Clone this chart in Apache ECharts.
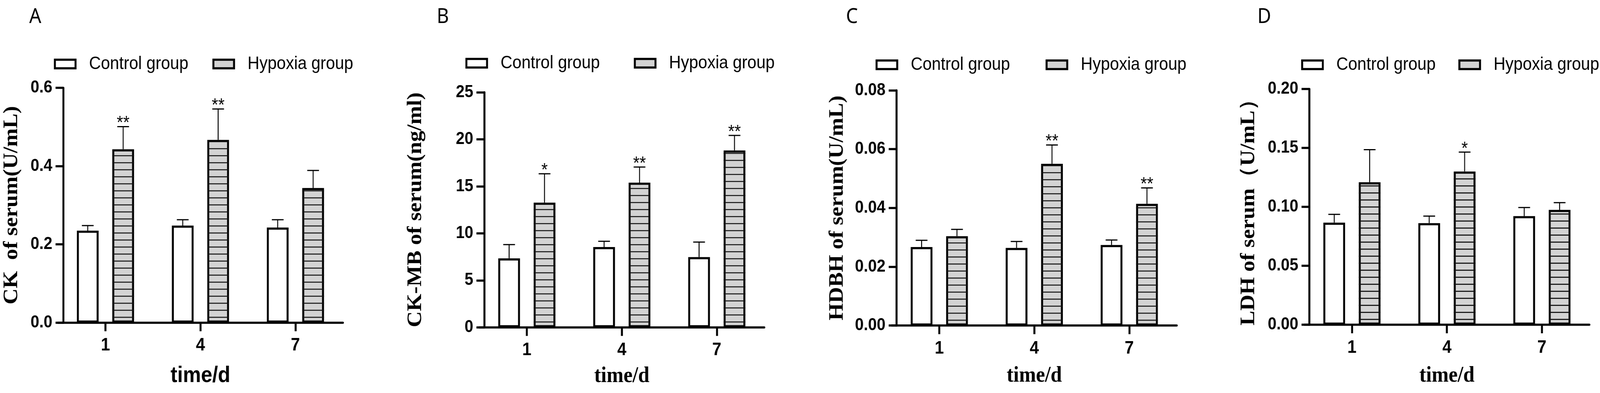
<!DOCTYPE html>
<html>
<head>
<meta charset="utf-8">
<title>Serum enzymes</title>
<script src="https://cdn.jsdelivr.net/npm/echarts@6/dist/echarts.min.js"></script>
<style>
  html, body { margin: 0; padding: 0; background: #fff; overflow: hidden; }
  #chart { width: 4492px; height: 1007px; transform-origin: 0 0; }
</style>
</head>
<body>
<div id="chart"></div>
<script>
const days = ['1', '4', '7'];
const groups = ['Control group', 'Hypoxia group'];

// A: CK
const ckControl = [0.235, 0.248, 0.243];
const ckControlSd = [0.013, 0.015, 0.020];
const ckHypoxia = [0.443, 0.467, 0.344];
const ckHypoxiaSd = [0.058, 0.079, 0.045];
const ckStars = ['**', '**', ''];

// B: CK-MB
const ckmbControl = [7.34, 8.54, 7.47];
const ckmbControlSd = [1.46, 0.61, 1.60];
const ckmbHypoxia = [13.26, 15.39, 18.81];
const ckmbHypoxiaSd = [3.07, 1.66, 1.60];
const ckmbStars = ['*', '**', '**'];

// C: HDBH
const hdbhControl = [0.0267, 0.0264, 0.0274];
const hdbhControlSd = [0.0023, 0.0022, 0.0017];
const hdbhHypoxia = [0.0304, 0.0550, 0.0414];
const hdbhHypoxiaSd = [0.0023, 0.0064, 0.0054];
const hdbhStars = ['', '**', '**'];

// D: LDH
const ldhControl = [0.0866, 0.0862, 0.0921];
const ldhControlSd = [0.0070, 0.0059, 0.0073];
const ldhHypoxia = [0.1209, 0.1300, 0.0974];
const ldhHypoxiaSd = [0.0276, 0.0164, 0.0062];
const ldhStars = ['', '*', ''];

const yNames = ['CK  of serum(U/mL)', 'CK-MB of serum(ng/ml)', 'HDBH of serum(U/mL)', 'LDH of serum（U/mL）'];
const yMax = [0.6, 25, 0.08, 0.2];
const yStep = [0.2, 5, 0.02, 0.05];
const yDigits = [1, 0, 2, 2];
const letters = ['A', 'B', 'C', 'D'];

const SANS = '"Liberation Sans", Arial, sans-serif';
const SERIF = '"Liberation Serif", "Times New Roman", serif';
const BAR_W = 61;
const BAR_GAP = 0.63;
const BAR_SHIFT = BAR_W * (1 + BAR_GAP) / 2;
const BORDER = 5.5;
const CAP = 16.5;

// where each panel sits on the page
const layout = [
  { left: 162.7, axisX: 178, top: 225.2, bottom: 826.7, ctrlLegend: 151.3, hypLegend: 596.3, legendTop: 141, yGap: 116, xGap: 108, xFont: SANS, letterLeft: 82 },
  { left: 1345.7, axisX: 1359.6, top: 236.5, bottom: 838.7, ctrlLegend: 1306.6, hypLegend: 1779.5, legendTop: 139, yGap: 164, xGap: 97, xFont: SERIF, letterLeft: 1226 },
  { left: 2503.7, axisX: 2517, top: 231.4, bottom: 834.2, ctrlLegend: 2458.2, hypLegend: 2935.5, legendTop: 143, yGap: 137, xGap: 101, xFont: SERIF, letterLeft: 2375 },
  { left: 3662.2, axisX: 3676, top: 228, bottom: 832, ctrlLegend: 3653, hypLegend: 4094.4, legendTop: 143, yGap: 141, xGap: 103, xFont: SERIF, letterLeft: 3530 }
];

const panelData = [
  [ckControl, ckControlSd, ckHypoxia, ckHypoxiaSd, ckStars],
  [ckmbControl, ckmbControlSd, ckmbHypoxia, ckmbHypoxiaSd, ckmbStars],
  [hdbhControl, hdbhControlSd, hdbhHypoxia, hdbhHypoxiaSd, hdbhStars],
  [ldhControl, ldhControlSd, ldhHypoxia, ldhHypoxiaSd, ldhStars]
];

const axisLine = { show: true, lineStyle: { color: '#000', width: BORDER } };
const axisTick = { show: true, length: 22, lineStyle: { color: '#000', width: BORDER } };

function errorRenderer(sign, stars) {
  return function (params, api) {
    const i = api.value(0);
    const base = api.coord([i, api.value(1)]);
    const top = api.coord([i, api.value(1) + api.value(2)]);
    const x = base[0] + sign * BAR_SHIFT;
    const children = [
      { type: 'line', shape: { x1: x, y1: base[1], x2: x, y2: top[1] }, style: { stroke: '#000', lineWidth: 2.6 } },
      { type: 'line', shape: { x1: x - CAP, y1: top[1], x2: x + CAP, y2: top[1] }, style: { stroke: '#000', lineWidth: 3 } }
    ];
    const star = stars && stars[params.dataIndex];
    if (star) {
      children.push({
        type: 'text', x: x, y: top[1] - 8,
        style: { text: star, fill: '#000', font: '46px ' + SANS, align: 'center', verticalAlign: 'middle' }
      });
    }
    return { type: 'group', children: children };
  };
}

function hatchRenderer(params, api) {
  const i = api.value(0);
  const zero = api.coord([i, 0]);
  const top = api.coord([i, api.value(1)]);
  const x = zero[0] + BAR_SHIFT;
  const children = [];
  for (let y = zero[1] - 13.7; y > top[1] + BORDER / 2 + 1.5; y -= 18) {
    children.push({ type: 'rect', shape: { x: x - BAR_W / 2, y: y - 1.35, width: BAR_W, height: 2.7 }, style: { fill: '#111' } });
  }
  return { type: 'group', children: children };
}

function legendItem(name, left, top) {
  return {
    left: left, top: top, padding: 0,
    itemWidth: 58, itemHeight: 22,
    icon: 'rect', selectedMode: false, data: [name],
    itemStyle: { borderColor: '#000', borderWidth: BORDER },
    textStyle: { fontFamily: SANS, fontSize: 46, color: '#000', padding: [0, 0, 0, 33] }
  };
}

const option = {
  animation: false,
  backgroundColor: '#fff',
  title: [], legend: [], grid: [], xAxis: [], yAxis: [], series: []
};

layout.forEach(function (p, k) {
  const [ctrl, ctrlSd, hyp, hypSd, stars] = panelData[k];

  option.title.push({
    text: letters[k], left: p.letterLeft, top: 17, padding: 0,
    textStyle: { fontFamily: '"Noto Sans", sans-serif', fontWeight: 'normal', fontSize: 53, color: '#000' }
  });

  option.legend.push(legendItem(groups[0], p.ctrlLegend, p.legendTop));
  option.legend.push(legendItem(groups[1], p.hypLegend, p.legendTop));

  option.grid.push({ left: p.left, top: p.top, width: 800, height: p.bottom - p.top, containLabel: false, outerBoundsMode: 'none' });

  option.xAxis.push({
    gridIndex: k, type: 'category', data: days,
    axisLine: axisLine,
    axisTick: Object.assign({ alignWithLabel: true }, axisTick),
    axisLabel: { margin: 36, fontFamily: SANS, fontWeight: 'bold', fontSize: 46, color: '#000' },
    splitLine: { show: false },
    name: 'time/d', nameLocation: 'middle', nameGap: p.xGap, nameMoveOverlap: false,
    nameTextStyle: { fontFamily: p.xFont, fontWeight: 'bold', fontSize: 57, color: '#000' }
  });

  option.yAxis.push({
    gridIndex: k, type: 'value', position: 'left', offset: p.left - p.axisX,
    min: 0, max: yMax[k], interval: yStep[k],
    axisLine: axisLine, axisTick: axisTick,
    axisLabel: {
      margin: 31, fontFamily: SANS, fontWeight: 'bold', fontSize: 44, color: '#000',
      formatter: function (v) { return v.toFixed(yDigits[k]); }
    },
    splitLine: { show: false },
    name: yNames[k], nameLocation: 'middle', nameGap: p.yGap, nameMoveOverlap: false,
    nameTextStyle: { fontFamily: SERIF, fontWeight: 'bold', fontSize: 57, color: '#000' }
  });

  option.series.push(
    {
      type: 'bar', name: groups[0], xAxisIndex: k, yAxisIndex: k, data: ctrl,
      barWidth: BAR_W, barGap: (BAR_GAP * 100) + '%',
      itemStyle: { color: '#fff', borderColor: '#000', borderWidth: BORDER }
    },
    {
      type: 'bar', name: groups[1], xAxisIndex: k, yAxisIndex: k, data: hyp,
      barWidth: BAR_W, barGap: (BAR_GAP * 100) + '%',
      itemStyle: { color: '#d3d3d3', borderColor: '#000', borderWidth: BORDER }
    },
    {
      type: 'custom', xAxisIndex: k, yAxisIndex: k, z: 3,
      renderItem: hatchRenderer,
      data: hyp.map(function (v, i) { return [i, v]; })
    },
    {
      type: 'custom', xAxisIndex: k, yAxisIndex: k, z: 4,
      renderItem: errorRenderer(-1, null),
      data: ctrl.map(function (v, i) { return [i, v, ctrlSd[i]]; })
    },
    {
      type: 'custom', xAxisIndex: k, yAxisIndex: k, z: 4,
      renderItem: errorRenderer(1, stars),
      data: hyp.map(function (v, i) { return [i, v, hypSd[i]]; })
    }
  );
});

// the browser window can come out narrower than the 4492x1007 figure;
// squeeze the figure so it fills the window exactly
const dom = document.getElementById('chart');
const sx = Math.min(1, window.innerWidth / 4492);
const sy = Math.min(1, window.innerHeight / 1007);
if (sx < 1 || sy < 1) dom.style.transform = 'scale(' + sx + ',' + sy + ')';
const chart = echarts.init(dom);
chart.setOption(option);
</script>
</body>
</html>
